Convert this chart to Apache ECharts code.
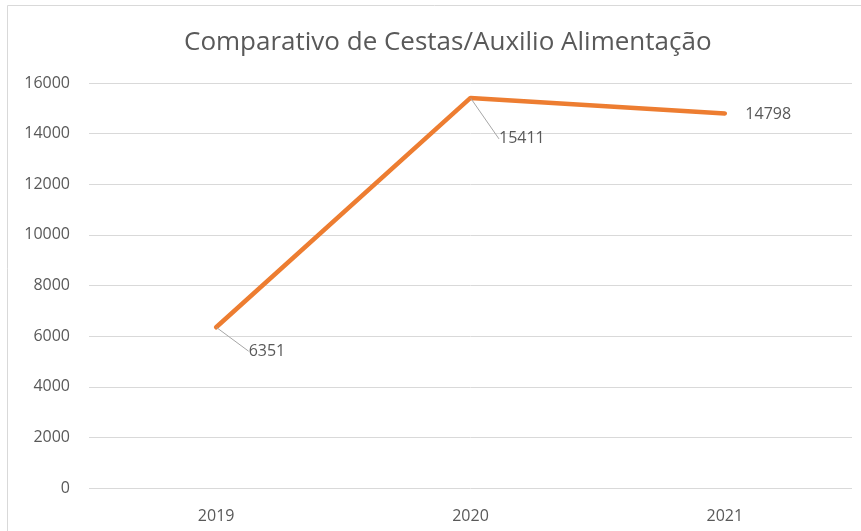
<!DOCTYPE html>
<html>
<head>
<meta charset="utf-8">
<script src="https://cdn.jsdelivr.net/npm/echarts@6/dist/echarts.min.js"></script>
<style>
  html, body { margin: 0; padding: 0; background: #fff; }
  #chart { width: 861px; height: 531px; }
</style>
</head>
<body>
<div id="chart"></div>
<script>
const years = ['2019', '2020', '2021'];
const cestas = [6351, 15411, 14798];
// where each value label sits, relative to its point
const labelShift = [[24, 24], [20, 41], [12, 1]];
const showLeader = [true, true, false];

const textColor = '#595959';
const fontName = 'Open Sans';

const chart = echarts.init(document.getElementById('chart'));

const seriesData = cestas.map(function (v, i) {
  return { value: v, labelLine: { show: showLeader[i] } };
});

const option = {
  animation: false,
  textStyle: { fontFamily: fontName },
  title: {
    text: 'Comparativo de Cestas/Auxilio Alimentação',
    left: 179,
    top: 25,
    textStyle: {
      color: textColor,
      fontSize: 26,
      fontWeight: 'normal',
      fontFamily: fontName
    }
  },
  graphic: [{
    type: 'rect',
    shape: { x: 7.5, y: 5.5, width: 870, height: 540 },
    style: { fill: 'none', stroke: '#d9d9d9', lineWidth: 1 },
    z: -1
  }],
  grid: { left: 89, right: 9, top: 83, bottom: 43 },
  xAxis: {
    type: 'category',
    data: years,
    boundaryGap: true,
    axisLine: { show: false },
    axisTick: { show: false },
    axisLabel: { color: textColor, fontSize: 16, margin: 20 }
  },
  yAxis: {
    type: 'value',
    min: 0,
    max: 16000,
    interval: 2000,
    axisLine: { show: false },
    axisTick: { show: false },
    axisLabel: {
      color: textColor,
      fontSize: 16,
      margin: 19,
      formatter: function (v) { return String(v); }
    },
    splitLine: { lineStyle: { color: '#d9d9d9', width: 1 } }
  },
  series: [{
    type: 'line',
    data: seriesData,
    symbol: 'circle',
    symbolSize: 1,
    showSymbol: true,
    itemStyle: { color: 'rgba(237,125,49,0)' },
    lineStyle: { color: '#ED7D31', width: 4.5, cap: 'round' },
    label: {
      show: true,
      position: 'right',
      distance: 0,
      padding: [0, 0, 0, 8],
      color: textColor,
      fontSize: 16,
      formatter: function (p) { return String(p.value); }
    },
    labelLine: {
      show: true,
      lineStyle: { color: '#a6a6a6', width: 1 }
    },
    labelLayout: function (p) {
      const s = labelShift[p.dataIndex];
      return { dx: s[0], dy: s[1] };
    }
  }]
};

chart.setOption(option);
</script>
</body>
</html>
